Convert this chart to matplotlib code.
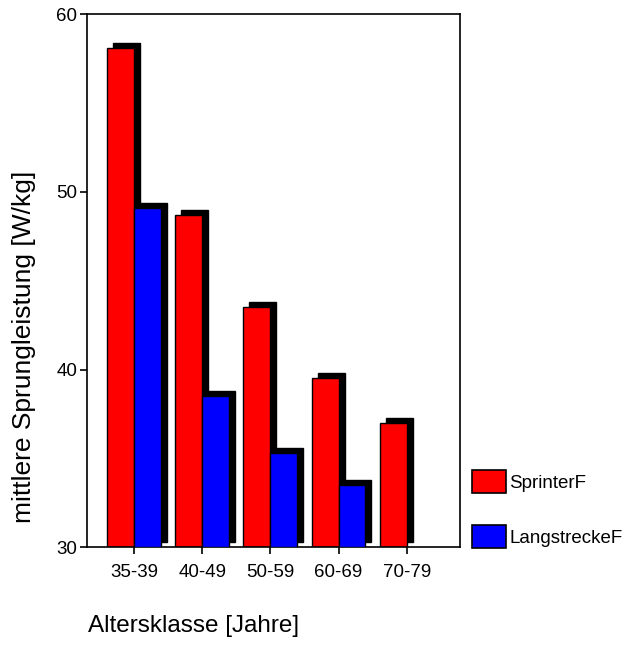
import numpy as np
import matplotlib
matplotlib.use('Agg')
import matplotlib.pyplot as plt
import matplotlib.transforms as mtransforms
from matplotlib.patches import Patch

plt.rcParams['font.family'] = ['Liberation Sans', 'DejaVu Sans']

# Mean jump power per age class
age_classes = ['35-39', '40-49', '50-59', '60-69', '70-79']
sprinter = [58.1, 48.7, 43.5, 39.5, 37.0]
langstrecke = [49.1, 38.5, 35.3, 33.5, np.nan]
series_names = ['SprinterF', 'LangstreckeF']

fig = plt.figure(figsize=(6.3, 6.46), dpi=100)
ax = fig.add_axes([0.138, 0.153, 0.592, 0.825])

x = np.arange(len(age_classes))
w = 0.395
base = 30

# black drop shadow behind each bar, shifted right and up
shadow = mtransforms.offset_copy(ax.transData, fig=fig, x=6, y=5, units='dots')
for vals, off in [(sprinter, -w / 2), (langstrecke, w / 2)]:
    v = np.array(vals)
    ax.bar(x + off, v - base, bottom=base, width=w, color='black',
           edgecolor='black', linewidth=1, transform=shadow, zorder=1)

ax.bar(x - w / 2, np.array(sprinter) - base, bottom=base, width=w, color='#ff0000',
       edgecolor='black', linewidth=1, zorder=2)
ax.bar(x + w / 2, np.array(langstrecke) - base, bottom=base, width=w, color='#0000ff',
       edgecolor='black', linewidth=1, zorder=3)

ax.set_xlim(-0.69, 4.78)
ax.set_ylim(30, 60)
ax.set_yticks([30, 40, 50, 60])
ax.set_xticks(x)
ax.set_xticklabels(age_classes)
ax.tick_params(axis='both', direction='out', length=5, width=1.2, labelsize=13.5, colors='black')
ax.tick_params(axis='x', pad=7)
ax.tick_params(axis='y', pad=2)
for s in ax.spines.values():
    s.set_linewidth(1.2)

ax.set_ylabel('mittlere Sprungleistung [W/kg]', fontsize=19, va='center')
ax.yaxis.set_label_coords(-0.168, 0.375)
fig.text(0.139, 0.031, 'Altersklasse [Jahre]', fontsize=17.5, ha='left', va='center')

handles = [Patch(facecolor='#ff0000', edgecolor='black', linewidth=1.2),
           Patch(facecolor='#0000ff', edgecolor='black', linewidth=1.2)]
fig.legend(handles, series_names, loc='upper left', bbox_to_anchor=(0.749, 0.272),
           frameon=False, fontsize=13.5, handlelength=1.8, handleheight=1.5,
           handletextpad=0.2, labelspacing=1.7, borderpad=0, borderaxespad=0)

fig.savefig('out.png', dpi=100)
